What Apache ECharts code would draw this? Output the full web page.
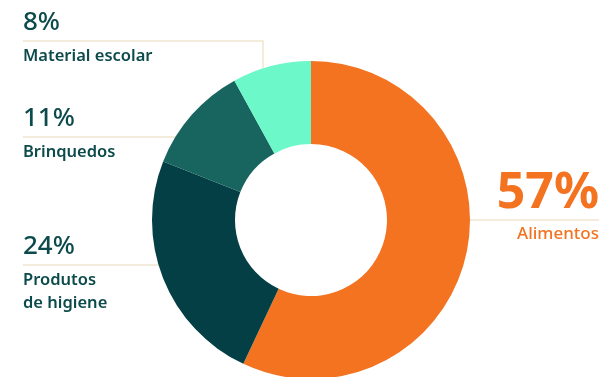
<!DOCTYPE html>
<html><head><meta charset="utf-8">
<script src="https://cdn.jsdelivr.net/npm/echarts@6/dist/echarts.min.js"></script>
<style>html,body{margin:0;padding:0;background:#fff}#c{width:603px;height:377px}</style>
</head><body><div id="c"></div>
<script>
const categories = ['Alimentos', 'Produtos\nde higiene', 'Brinquedos', 'Material escolar'];
const values = [57, 24, 11, 8];
const percentLabels = ['57%', '24%', '11%', '8%'];
const colors = ['#F37321', '#033F44', '#17655E', '#6CF8C8'];

const CX = 311, CY = 220, R0 = 76, R1 = 159;
const LINE_COLOR = '#EFE6CF';
const labelSpec = [
  { lineY: 220, textX: 599, side: 'right' },
  { lineY: 265, textX: 23, side: 'left' },
  { lineY: 137, textX: 23, side: 'left' },
  { lineY: 41, textX: 23, side: 'left', bendX: 263 }
];

function edgeXAt(y, side) {
  const dy = y - CY;
  const dx = Math.sqrt(R1 * R1 - dy * dy);
  return side === 'right' ? CX + dx : CX - dx;
}
function edgeYAt(x) {
  const dx = x - CX;
  return CY - Math.sqrt(R1 * R1 - dx * dx);
}

const chart = echarts.init(document.getElementById('c'), null, { renderer: 'canvas' });
const textColor = '#0C4A4B';
chart.setOption({
  animation: false,
  backgroundColor: '#fff',
  series: [{
    type: 'pie',
    center: [CX, CY],
    radius: [R0, R1],
    startAngle: 90,
    clockwise: true,
    avoidLabelOverlap: false,
    emphasis: { disabled: true },
    itemStyle: { borderWidth: 0 },
    data: categories.map((c, i) => ({
      name: c,
      value: values[i],
      itemStyle: { color: colors[i] },
      label: i === 0 ? {
        formatter: '{pb|' + percentLabels[i] + '}\n{nb|' + c + '}',
        align: 'right'
      } : {
        formatter: '{p|' + percentLabels[i] + '}\n{n|' + c.split('\n').join('}\n{n|') + '}',
        align: 'left'
      }
    })),
    label: {
      show: true,
      position: 'outside',
      rich: {
        p: { fontFamily: 'Noto Sans', fontSize: 26, fontWeight: 500, color: textColor, lineHeight: 44 },
        n: { fontFamily: 'Noto Sans', fontSize: 16.5, fontWeight: 600, color: textColor, lineHeight: 23 },
        pb: { fontFamily: 'Noto Sans', fontSize: 50, fontWeight: 700, color: '#F37321', lineHeight: 59, align: 'right' },
        nb: { fontFamily: 'Noto Sans', fontSize: 17, fontWeight: 500, color: '#F37321', lineHeight: 23, align: 'right' }
      }
    },
    labelLine: {
      show: true,
      lineStyle: { color: LINE_COLOR, width: 1.5 }
    },
    labelLayout: function (params) {
      const s = labelSpec[params.dataIndex];
      let pts;
      if (s.side === 'right') {
        const ex = edgeXAt(s.lineY, 'right');
        pts = [[ex, s.lineY], [(ex + s.textX) / 2, s.lineY], [s.textX, s.lineY]];
        return { x: s.textX, y: s.lineY - 56, align: 'right', verticalAlign: 'top', labelLinePoints: pts };
      }
      if (s.bendX !== undefined) {
        pts = [[s.bendX, edgeYAt(s.bendX)], [s.bendX, s.lineY], [s.textX, s.lineY]];
      } else {
        const ex = edgeXAt(s.lineY, 'left');
        pts = [[ex, s.lineY], [(ex + s.textX) / 2, s.lineY], [s.textX, s.lineY]];
      }
      return { x: s.textX, y: s.lineY - 40, align: 'left', verticalAlign: 'top', labelLinePoints: pts };
    }
  }]
});
</script>
</body></html>
